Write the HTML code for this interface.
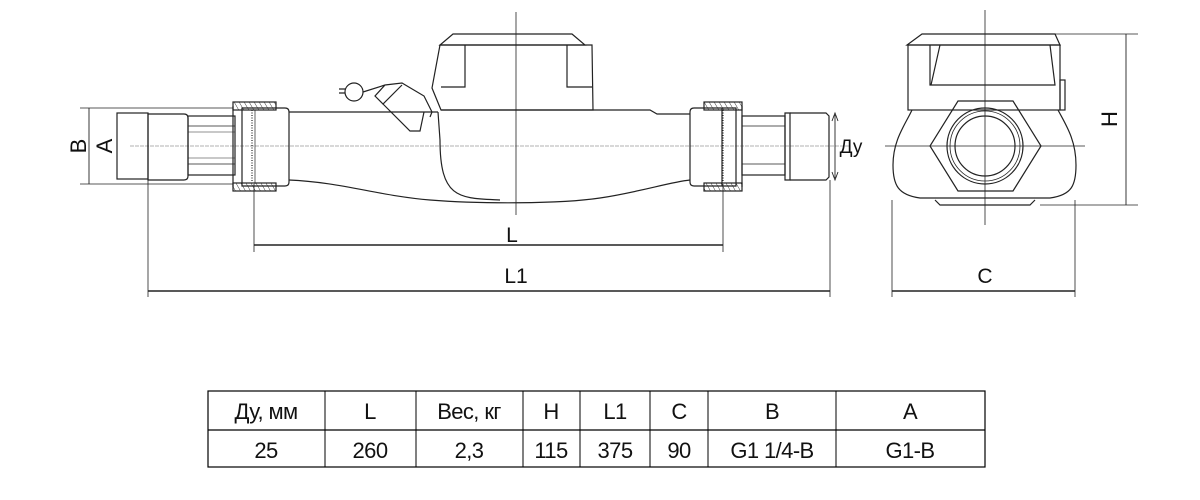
<!DOCTYPE html>
<html><head><meta charset="utf-8"><style>
html,body{margin:0;padding:0;background:#fff;width:1200px;height:500px;overflow:hidden}
svg{display:block}
text{font-family:"Liberation Sans",Arial,sans-serif;fill:#111}
</style></head><body>
<svg width="1200" height="500" viewBox="0 0 1200 500" xmlns="http://www.w3.org/2000/svg">
<defs>
<pattern id="h" width="5" height="8" patternUnits="userSpaceOnUse" patternTransform="skewX(30)">
<rect width="5" height="8" fill="#fff"/><line x1="0" y1="0" x2="0" y2="8" stroke="#222" stroke-width="1"/></pattern>
</defs>
<g fill="none" stroke="#222" stroke-width="1.2">
<line x1="130" y1="146" x2="850" y2="146" stroke="#999" stroke-width="0.8" stroke-dasharray="4,1"/>
<line x1="516" y1="12" x2="516" y2="215" stroke-width="0.8"/>
<line x1="80" y1="108" x2="240" y2="108" stroke-width="0.8"/>
<line x1="80" y1="184" x2="240" y2="184" stroke-width="0.8"/>
<line x1="89" y1="108" x2="89" y2="184" stroke-width="0.9"/>
<line x1="117" y1="113" x2="117" y2="179" stroke-width="0.9"/>
<rect x="117" y="113" width="31" height="66"/>
<path d="M148 114 H184 Q188 114 188 118 V176 Q188 180 184 180 H148 Z"/>
<rect x="188" y="116" width="47" height="59"/>
<line x1="188" y1="126" x2="235" y2="126" stroke-width="0.7"/><line x1="188" y1="164" x2="235" y2="164" stroke-width="0.7"/>
<line x1="188" y1="132" x2="235" y2="132" stroke-width="0.5"/><line x1="188" y1="158" x2="235" y2="158" stroke-width="0.5"/>
<rect x="233" y="102" width="43" height="8" fill="url(#h)"/>
<rect x="233" y="183" width="43" height="8" fill="url(#h)"/>
<path d="M233 106 V187 M242 108 H285 Q289 108 289 112 V182 Q289 186 285 186 H242 Z"/>
<line x1="252" y1="110" x2="252" y2="184" stroke-dasharray="1,1.5"/>
<line x1="255" y1="110" x2="255" y2="184" stroke-width="0.7"/>
<path d="M289 112 H438 M289 180 C340 182 380 196 430 200 C480 204 560 204 600 198 C640 192 670 182 690 180"/>
<path d="M438 112 L440 140 C440 200 460 198 500 200"/>
<path d="M592 110 H650 L657 114 H690"/>
<path d="M453 34 H572 L585 45 H440 Z"/>
<path d="M440 45 H592 L593 110 H441 L432 88 Z"/>
<path d="M465 45 V87 H441 M567 45 V87 H592"/>
<line x1="441" y1="110" x2="592" y2="110"/>
<circle cx="354" cy="92" r="9"/>
<path d="M363 92 L385 85 L402 83 L424 96 L432 112 L430 117 M385 85 L375 96 L383 104 L402 85"/>
<path d="M383 104 L410 131 H420 L424 112"/>
<path d="M345 89 H339 M345 93 H339"/>
<rect x="704" y="102" width="38" height="8" fill="url(#h)"/>
<rect x="704" y="183" width="38" height="8" fill="url(#h)"/>
<path d="M694 108 H722 V186 H694 Q690 186 690 182 V112 Q690 108 694 108 Z"/>
<line x1="723" y1="110" x2="723" y2="184" stroke-dasharray="1,1.5"/>
<path d="M722 108 H736 V186 H722 M742 106 V187"/>
<rect x="742" y="116" width="43" height="59"/>
<line x1="742" y1="126" x2="785" y2="126" stroke-width="0.7"/><line x1="742" y1="164" x2="785" y2="164" stroke-width="0.7"/>
<path d="M785 113 H790 V180 H785 Z"/>
<path d="M790 113 H826 L829 116 V177 L826 180 H790"/>
<line x1="835" y1="115" x2="835" y2="178" stroke-width="0.9"/>
<path d="M832 121 L835 113 L838 121 M832 172 L835 180 L838 172" stroke-width="0.9"/>
<line x1="148" y1="179" x2="148" y2="297" stroke-width="0.8"/>
<line x1="254" y1="184" x2="254" y2="252" stroke-width="0.8"/>
<line x1="723" y1="184" x2="723" y2="252" stroke-width="0.8"/>
<line x1="830" y1="180" x2="830" y2="297" stroke-width="0.8"/>
<line x1="254" y1="245" x2="723" y2="245" stroke-width="1.5"/>
<line x1="148" y1="291" x2="830" y2="291" stroke-width="1.5"/>
<line x1="892" y1="200" x2="892" y2="297" stroke-width="0.8"/>
<line x1="1075" y1="200" x2="1075" y2="297" stroke-width="0.8"/>
<line x1="892" y1="291" x2="1075" y2="291" stroke-width="1.5"/>
<line x1="885" y1="146" x2="1085" y2="146" stroke-width="0.8"/>
<line x1="985" y1="10" x2="985" y2="225" stroke-width="0.8"/>
<path d="M922 34 H1055 L1060 45 H907 Z"/>
<rect x="908" y="45" width="152" height="65"/>
<path d="M930 45 L930 85 H1055 L1050 45 M940 45 L931 85"/>
<rect x="1060" y="80" width="5" height="30"/>
<path d="M912 110 C905 125 893 140 893 165 C893 185 898 195 920 198 H1050 C1072 195 1076 185 1076 165 C1076 140 1066 125 1058 110"/>
<path d="M935 200 L940 205 H1030 L1035 200"/>
<polygon points="958,101 1013,101 1041,146 1013,191 958,191 930,146"/>
<circle cx="985" cy="146" r="38"/><circle cx="985" cy="146" r="35" stroke-width="0.8"/><circle cx="985" cy="146" r="30"/>
<line x1="1055" y1="34" x2="1138" y2="34" stroke-width="0.8"/>
<line x1="1040" y1="205" x2="1138" y2="205" stroke-width="0.8"/>
<line x1="1126" y1="34" x2="1126" y2="205" stroke-width="0.9"/>
<rect x="208" y="391" width="777" height="76" stroke="#000" stroke-width="1.2"/>
<line x1="208" y1="430" x2="985" y2="430" stroke="#000"/>
<g stroke="#000" stroke-width="1"><line x1="325" y1="391" x2="325" y2="467"/><line x1="416" y1="391" x2="416" y2="467"/><line x1="523" y1="391" x2="523" y2="467"/><line x1="580" y1="391" x2="580" y2="467"/><line x1="650" y1="391" x2="650" y2="467"/><line x1="708" y1="391" x2="708" y2="467"/><line x1="836" y1="391" x2="836" y2="467"/></g>
</g>
<g font-size="21" text-anchor="middle">
<text x="512" y="242">L</text>
<text x="516" y="283">L1</text>
<text x="985" y="283">C</text>
<text x="851" y="153" font-size="19">Ду</text>
<text transform="translate(78,146) rotate(-90)" y="8" font-size="22">B</text>
<text transform="translate(104,146) rotate(-90)" y="8" font-size="22">A</text>
<text transform="translate(1109,119) rotate(-90)" y="8" font-size="22">H</text>
</g>
<g font-size="22" text-anchor="middle" letter-spacing="-0.6">
<text x="266" y="419">Ду, мм</text><text x="370" y="419">L</text><text x="469" y="419">Вес, кг</text><text x="551" y="419">H</text><text x="615" y="419">L1</text><text x="679" y="419">C</text><text x="772" y="419">B</text><text x="910" y="419">A</text>
<text x="266" y="458">25</text><text x="370" y="458">260</text><text x="469" y="458">2,3</text><text x="551" y="458">115</text><text x="615" y="458">375</text><text x="679" y="458">90</text><text x="772" y="458">G1 1/4-B</text><text x="910" y="458">G1-B</text>
</g>
</svg>
</body></html>
